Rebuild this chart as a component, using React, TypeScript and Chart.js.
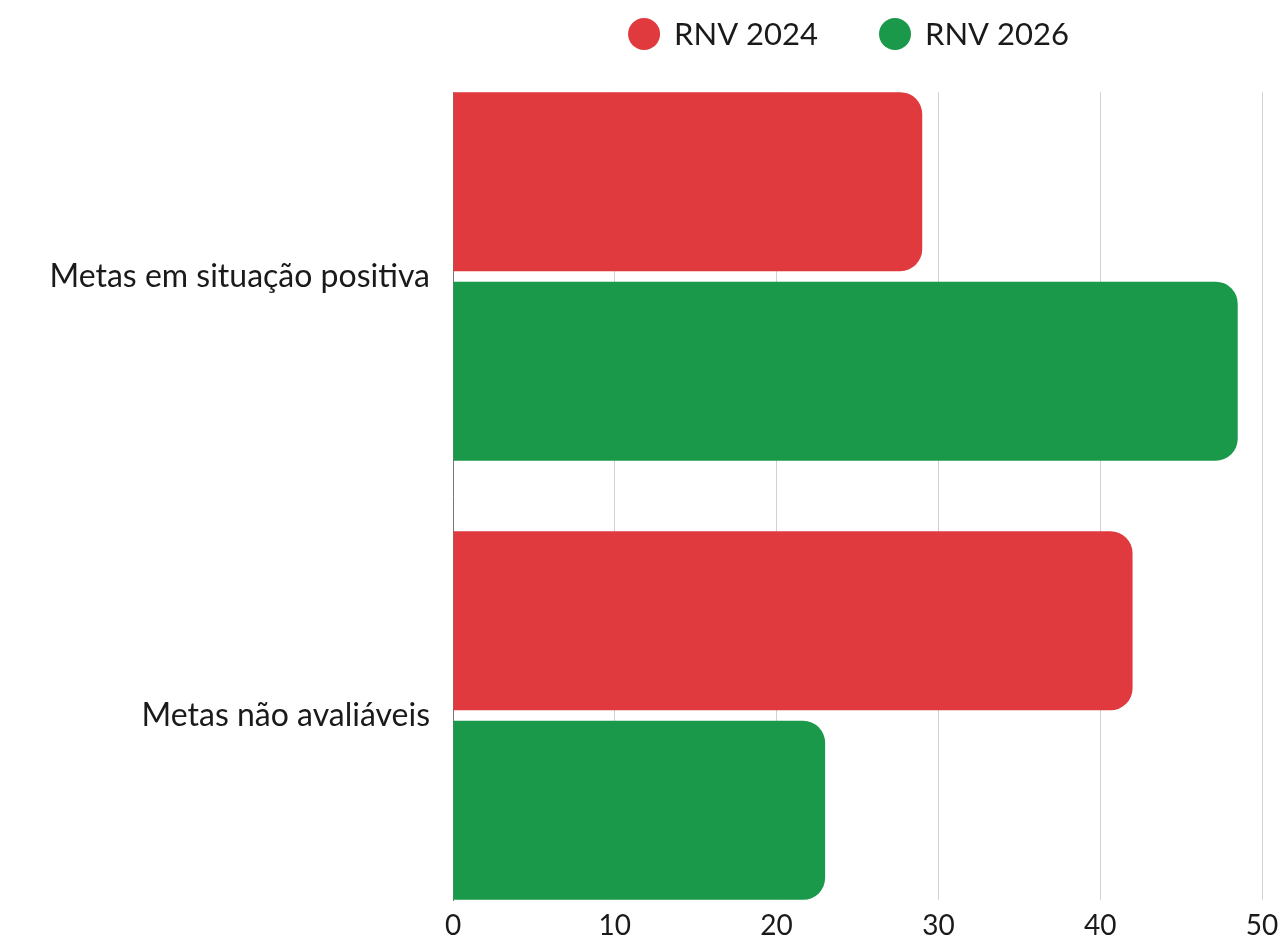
import React, { useEffect, useRef } from "react";
import { Chart, registerables } from "chart.js";

Chart.register(...registerables);

const FONT = "Lato, 'Noto Sans', sans-serif";

const categories = ["Metas em situação positiva", "Metas não avaliáveis"];
const seriesNames = ["RNV 2024", "RNV 2026"];
const values2024 = [29, 42];
const values2026 = [48.5, 23];
const seriesColors = ["#E0393E", "#1B994A"];
const xTicks = [0, 10, 20, 30, 40, 50];

const legendDots = {
  id: "legendDots",
  afterDraw(chart: any) {
    const ctx = chart.ctx as CanvasRenderingContext2D;
    ctx.save();
    ctx.font = `31px ${FONT}`;
    ctx.textBaseline = "middle";
    ctx.textAlign = "left";
    const r = 16;
    const boxToText = 46;
    const itemGap = 61;
    const cy = 34;
    const items = chart.data.datasets.map((d: any) => ({
      text: d.label as string,
      color: d.backgroundColor as string,
      w: ctx.measureText(d.label).width,
    }));
    let total = 0;
    items.forEach((it: any, i: number) => {
      total += boxToText + it.w + (i < items.length - 1 ? itemGap : 0);
    });
    let x = 848.5 - total / 2;
    items.forEach((it: any) => {
      ctx.fillStyle = it.color;
      ctx.beginPath();
      ctx.arc(x + r, cy, r, 0, Math.PI * 2);
      ctx.fill();
      ctx.fillStyle = "#1a1a1a";
      ctx.fillText(it.text, x + boxToText, cy + 1);
      x += boxToText + it.w + itemGap;
    });
    ctx.restore();
  },
};

export default function App() {
  const ref = useRef<HTMLCanvasElement>(null);

  useEffect(() => {
    document.body.style.margin = "0";
    const canvas = ref.current!;
    const chart = new Chart(canvas, {
      type: "bar",
      data: {
        datasets: [
          {
            label: seriesNames[0],
            data: values2024.map((v, i) => ({ x: v, y: i })),
            backgroundColor: seriesColors[0],
          },
          {
            label: seriesNames[1],
            data: values2026.map((v, i) => ({ x: v, y: i })),
            backgroundColor: seriesColors[1],
          },
        ],
      },
      options: {
        indexAxis: "y",
        responsive: false,
        animation: false,
        devicePixelRatio: 1,
        layout: { padding: { top: 92, right: 22, left: 0, bottom: 0 } },
        datasets: {
          bar: {
            categoryPercentage: 0.8633,
            barPercentage: 0.9446,
            borderRadius: 22,
            borderSkipped: "start",
          },
        },
        plugins: {
          legend: { display: false },
          tooltip: { enabled: false },
        },
        scales: {
          x: {
            type: "linear",
            min: 0,
            max: 50,
            afterBuildTicks: (s: any) => {
              s.ticks = xTicks.map((v) => ({ value: v }));
            },
            afterFit: (s: any) => {
              s.height = 40;
              s.paddingRight = 0;
              s.paddingLeft = 0;
            },
            grid: { color: "#d2d2d2", lineWidth: 1, drawTicks: false },
            border: { display: false },
            ticks: {
              padding: 9,
              color: "#1a1a1a",
              font: { family: FONT, size: 28 },
            },
          },
          y: {
            type: "linear",
            min: -0.42,
            max: 1.42,
            reverse: true,
            offset: false,
            afterBuildTicks: (s: any) => {
              s.ticks = categories.map((_, i) => ({ value: i }));
            },
            afterFit: (s: any) => {
              s.width = 453;
              s.paddingTop = 0;
              s.paddingBottom = 0;
            },
            grid: { display: false, drawTicks: false, offset: false },
            border: { display: true, color: "#777777", width: 1 },
            ticks: {
              padding: 23,
              color: "#1a1a1a",
              font: { family: FONT, size: 32 },
              callback: (v: any) => categories[v as number] ?? "",
            },
          },
        },
      },
      plugins: [legendDots],
    });
    return () => chart.destroy();
  }, []);

  return (
    <div style={{ position: "relative", width: 1284, height: 940, overflow: "hidden" }}>
      <canvas ref={ref} width={1284} height={940} />
    </div>
  );
}
